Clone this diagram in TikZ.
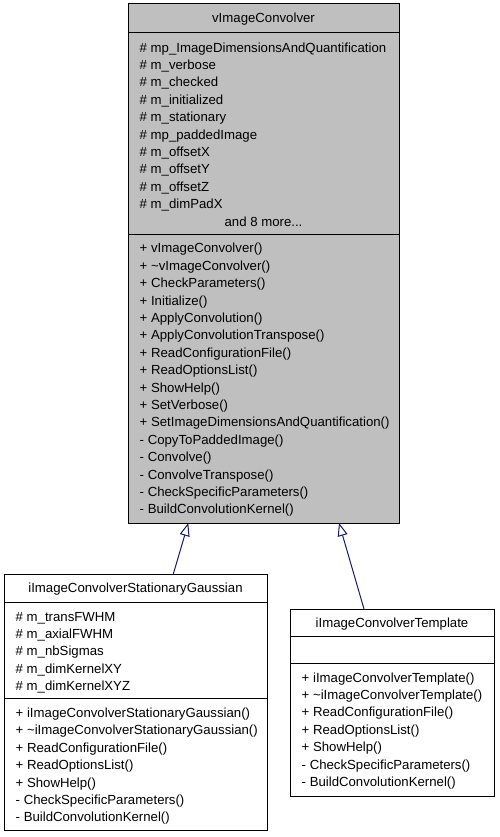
\documentclass[tikz,border=0pt]{standalone}
\usepackage{fontspec}
\setmainfont{Liberation Sans}
\usetikzlibrary{arrows.meta}
\definecolor{boxgray}{RGB}{191,191,191}
\definecolor{inhblue}{RGB}{25,25,112}
\begin{document}
\begin{tikzpicture}[x=1pt,y=-1pt,
  cls/.style={draw=black, line width=1pt, inner sep=0pt, anchor=north west},
  sep/.style={draw=black, line width=1pt},
  txt/.style={anchor=base west, inner sep=0pt, font=\fontsize{13.2}{16}\selectfont},
  ttl/.style={anchor=base, inner sep=0pt, font=\fontsize{13.2}{16}\selectfont},
  inh/.style={draw=inhblue, line width=1pt, -{Triangle[open, length=13pt, width=10pt]}}]
\fill[white] (0,0) rectangle (499,837);
\useasboundingbox (0,0) rectangle (499,837);
% base class
\node[cls, fill=boxgray, minimum width=271pt, minimum height=520pt] (base) at (128,3) {};
\draw[sep] (128,33) -- (399,33);
\draw[sep] (128,234) -- (399,234);
\node[ttl] (basettl) at (263.5,22.5) {vImageConvolver};
\foreach \t [count=\i from 0] in {\#\ mp\_ImageDimensionsAndQuantification,\#\ m\_verbose,\#\ m\_checked,\#\ m\_initialized,\#\ m\_stationary,\#\ mp\_paddedImage,\#\ m\_offsetX,\#\ m\_offsetY,\#\ m\_offsetZ,\#\ m\_dimPadX}
  \node[txt] (ba\i) at (139.5,{52.2+17.4*\i}) {\t};
\node[ttl] (bamore) at (263.5,{52.2+17.4*10}) {and 8 more...};
\foreach \t [count=\i from 0] in {+ vImageConvolver(),+ \textasciitilde vImageConvolver(),+ CheckParameters(),+ Initialize(),+ ApplyConvolution(),+ ApplyConvolutionTranspose(),+ ReadConfigurationFile(),+ ReadOptionsList(),+ ShowHelp(),+ SetVerbose(),+ SetImageDimensionsAndQuantification(),- CopyToPaddedImage(),- Convolve(),- ConvolveTranspose(),- CheckSpecificParameters(),- BuildConvolutionKernel()}
  \node[txt] (bm\i) at (139.5,{252.8+17.4*\i}) {\t};
% stationary gaussian
\node[cls, fill=white, minimum width=263pt, minimum height=256pt] (gauss) at (4,574) {};
\draw[sep] (4,602) -- (267,602);
\draw[sep] (4,698.5) -- (267,698.5);
\node[ttl] (gaussttl) at (135.5,592.5) {iImageConvolverStationaryGaussian};
\foreach \t [count=\i from 0] in {\#\ m\_transFWHM,\#\ m\_axialFWHM,\#\ m\_nbSigmas,\#\ m\_dimKernelXY,\#\ m\_dimKernelXYZ}
  \node[txt] (ga\i) at (15.5,{621+17.4*\i}) {\t};
\foreach \t [count=\i from 0] in {+ iImageConvolverStationaryGaussian(),+ \textasciitilde iImageConvolverStationaryGaussian(),+ ReadConfigurationFile(),+ ReadOptionsList(),+ ShowHelp(),- CheckSpecificParameters(),- BuildConvolutionKernel()}
  \node[txt] (gm\i) at (15.5,{717.5+17.4*\i}) {\t};
% template
\node[cls, fill=white, minimum width=204pt, minimum height=187pt] (tmpl) at (290,609) {};
\draw[sep] (290,636) -- (494,636);
\draw[sep] (290,663) -- (494,663);
\node[ttl] (tmplttl) at (392,627) {iImageConvolverTemplate};
\foreach \t [count=\i from 0] in {+ iImageConvolverTemplate(),+ \textasciitilde iImageConvolverTemplate(),+ ReadConfigurationFile(),+ ReadOptionsList(),+ ShowHelp(),- CheckSpecificParameters(),- BuildConvolutionKernel()}
  \node[txt] (tm\i) at (301.5,{682+17.4*\i}) {\t};
% inheritance
\coordinate (gtop) at (173.3,574);
\coordinate (gtip) at (188.3,523);
\coordinate (ttop) at (364,609);
\coordinate (ttip) at (339,523);
\draw[inh] (gtop) -- (gtip);
\draw[inh] (ttop) -- (ttip);
\end{tikzpicture}
\end{document}
